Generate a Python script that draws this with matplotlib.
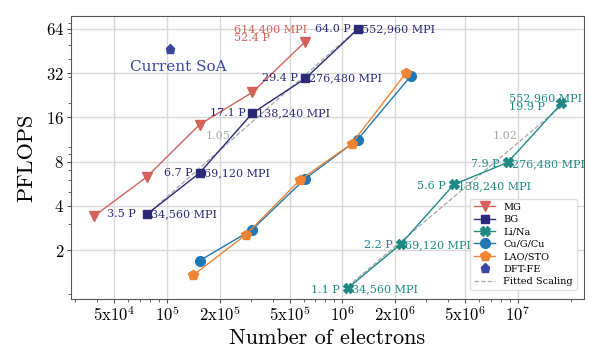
import numpy as np
import matplotlib
matplotlib.use("Agg")
import matplotlib.pyplot as plt
from matplotlib.ticker import FixedLocator, FixedFormatter, LogLocator, NullFormatter

plt.rcParams['mathtext.fontset'] = 'cm'
plt.rcParams['font.family'] = 'DejaVu Serif'

# number of electrons / PFLOPS for each system
mg_x = [38400, 76800, 153600, 307200, 614400]
mg_y = [3.4, 6.3, 14.3, 23.7, 52.4]

bg_x = [76800, 153600, 307200, 614400, 1228800]
bg_y = [3.5, 6.7, 17.1, 29.4, 64.0]
bg_mpi = ['34,560', '69,120', '138,240', '276,480', '552,960']

li_x = [1.07e6, 2.15e6, 4.32e6, 8.75e6, 1.77e7]
li_y = [1.1, 2.2, 5.6, 7.9, 19.9]
li_mpi = ['34,560', '69,120', '138,240', '276,480', '552,960']

cu_x = [154000, 305000, 611000, 1.22e6, 2.45e6]
cu_y = [1.7, 2.75, 6.1, 11.3, 30.5]

lao_x = [141000, 282000, 573000, 1.13e6, 2.3e6]
lao_y = [1.35, 2.55, 6.0, 10.6, 32.0]

soa_x = [1.04e5]
soa_y = [46.5]

xticks = [5e4, 1e5, 2e5, 5e5, 1e6, 2e6, 5e6, 1e7]
xlabels = [r'$5\mathrm{x}10^{4}$', r'$10^{5}$', r'$2\mathrm{x}10^{5}$', r'$5\mathrm{x}10^{5}$',
           r'$10^{6}$', r'$2\mathrm{x}10^{6}$', r'$5\mathrm{x}10^{6}$', r'$10^{7}$']
yticks = [2, 4, 8, 16, 32, 64]

c_mg = '#d4625c'
c_bg = '#2b2a78'
c_li = '#1f8a84'
c_cu = '#1f77b4'
c_lao = '#ef8434'
c_soa = '#3a46a0'
c_fit = '#a8a8a8'

fig = plt.figure(figsize=(6.04, 3.59), dpi=100)
ax = fig.add_axes([0.1175, 0.167, 0.8495, 0.788])

ax.plot(mg_x, mg_y, '-v', color=c_mg, lw=1, ms=7, label='MG')
ax.plot(bg_x, bg_y, '-s', color=c_bg, lw=1, ms=6, label='BG')
ax.plot(li_x, li_y, '-X', color=c_li, lw=1, ms=7, label='Li/Na')
ax.plot(cu_x, cu_y, '-o', color=c_cu, lw=1, ms=7, label='Cu/G/Cu')
ax.plot(lao_x, lao_y, '-p', color=c_lao, lw=1, ms=7.5, label='LAO/STO')
ax.plot(soa_x, soa_y, 'p', color=c_soa, ms=6.5, label='DFT-FE')

# fitted power law scaling
for xs, ys in [(bg_x, bg_y), (li_x, li_y)]:
    p = np.polyfit(np.log(xs), np.log(ys), 1)
    xf = np.array([min(xs), max(xs)])
    ax.plot(xf, np.exp(np.polyval(p, np.log(xf))), '--', color=c_fit, lw=0.9, zorder=1)
ax.plot([], [], '--', color=c_fit, lw=0.9, label='Fitted Scaling')

fs = 8
# BG annotations
for i, (x, y, m) in enumerate(zip(bg_x, bg_y, bg_mpi)):
    ax.annotate(f'{y:.1f} P', (x, y), xytext=(-8 if i == 0 else -5, 0), textcoords='offset points',
                ha='right', va='center', color=c_bg, fontsize=fs)
    ax.annotate(f'{m} MPI', (x, y), xytext=(3, 0), textcoords='offset points',
                ha='left', va='center', color=c_bg, fontsize=fs)

# Li/Na annotations
for x, y, m in list(zip(li_x, li_y, li_mpi))[:4]:
    ax.annotate(f'{y:.1f} P', (x, y), xytext=(-6, -1), textcoords='offset points',
                ha='right', va='center', color=c_li, fontsize=fs)
    ax.annotate(f'{m} MPI', (x, y), xytext=(3, -1), textcoords='offset points',
                ha='left', va='center', color=c_li, fontsize=fs)
ax.annotate(f'{li_mpi[-1]} MPI\n{li_y[-1]:.1f} P', (li_x[-1], li_y[-1]), xytext=(-38, -6),
            textcoords='offset points', ha='left', va='bottom', color=c_li, fontsize=fs,
            linespacing=0.85)

# MG annotation
ax.annotate(f'614,400 MPI\n{mg_y[-1]:.1f} P', (mg_x[-1], mg_y[-1]), xytext=(-51, -1),
            textcoords='offset points', ha='left', va='bottom', color=c_mg, fontsize=fs,
            linespacing=0.85)

ax.text(2.29e5, 11.9, '1.05', color=c_fit, fontsize=fs, ha='right', va='center')
ax.text(1.0e7, 12.0, '1.02', color=c_fit, fontsize=fs, ha='right', va='center')
ax.annotate('Current SoA', (soa_x[0], soa_y[0]), xytext=(6, -13), textcoords='offset points',
            ha='center', va='center', color=c_soa, fontsize=11)

ax.set_xscale('log')
ax.set_yscale('log', base=2)
ax.set_xlim(28400, 2.38e7)
ax.set_ylim(0.93, 78)

ax.xaxis.set_major_locator(FixedLocator(xticks))
ax.xaxis.set_major_formatter(FixedFormatter(xlabels))
ax.xaxis.set_minor_locator(LogLocator(base=10, subs=np.arange(2, 10)))
ax.xaxis.set_minor_formatter(NullFormatter())
ax.yaxis.set_major_locator(FixedLocator(yticks))
ax.yaxis.set_major_formatter(FixedFormatter([f'${v}$' for v in yticks]))
ax.yaxis.set_minor_locator(LogLocator(base=10, subs=np.arange(1, 10)))
ax.yaxis.set_minor_formatter(NullFormatter())

ax.tick_params(which='major', labelsize=12, length=3, color='#555555', pad=2)
ax.tick_params(which='minor', length=2, color='#555555')
for s in ax.spines.values():
    s.set_color('#555555')
ax.grid(True, which='major', color='#d8d8d8', lw=1)
ax.set_axisbelow(True)

ax.set_xlabel('Number of electrons', fontsize=16, family='cmr10', labelpad=2)
ax.set_ylabel('PFLOPS', fontsize=16, family='cmr10', labelpad=7)

ax.legend(loc='lower right', fontsize=7, borderpad=0.4, labelspacing=0.35,
          handlelength=2.2, framealpha=1, edgecolor='#dddddd', fancybox=True,
          bbox_to_anchor=(0.995, 0.015))

fig.savefig('out.png', dpi=100)
